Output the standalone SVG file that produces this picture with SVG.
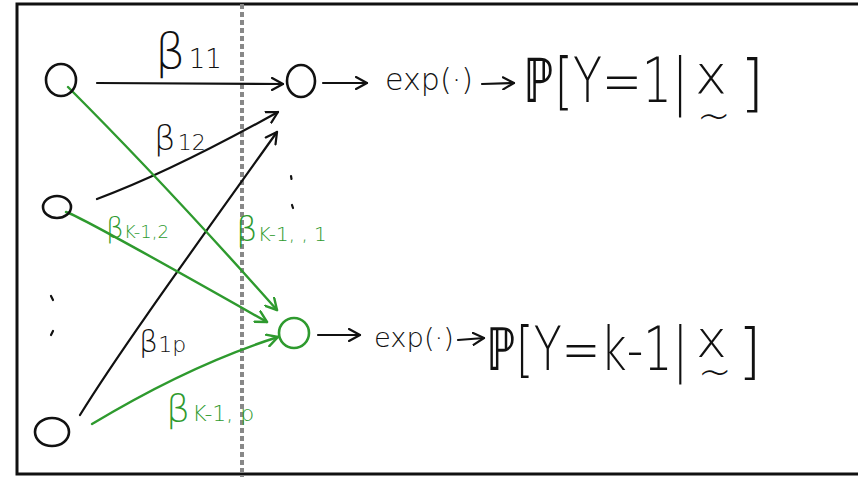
<svg xmlns="http://www.w3.org/2000/svg" width="858" height="477" viewBox="0 0 858 477">
<style>
.blk{fill:none;stroke:#111;stroke-width:2.2;stroke-linecap:round;stroke-linejoin:round}
.grn{fill:none;stroke:#2e9a2e;stroke-width:2.4;stroke-linecap:round;stroke-linejoin:round}
.node{fill:none;stroke-width:2.6}
.t{font-family:"DejaVu Sans","Liberation Sans",sans-serif;fill:#111;font-weight:200}
.tg{font-family:"DejaVu Sans","Liberation Sans",sans-serif;fill:#2e9a2e;font-weight:200}
</style>
<defs>
<marker id="ab" markerWidth="14" markerHeight="14" refX="12" refY="7" orient="auto" markerUnits="userSpaceOnUse">
<path d="M1,1 L12,7 L1,13" fill="none" stroke="#111" stroke-width="2.2" stroke-linecap="round" stroke-linejoin="round"/>
</marker>
<marker id="ag" markerWidth="14" markerHeight="14" refX="12" refY="7" orient="auto" markerUnits="userSpaceOnUse">
<path d="M1,1 L12,7 L1,13" fill="none" stroke="#2e9a2e" stroke-width="2.4" stroke-linecap="round" stroke-linejoin="round"/>
</marker>
</defs>
<rect x="0" y="0" width="858" height="477" fill="#fff"/>
<rect x="17" y="4" width="860" height="470" fill="none" stroke="#111" stroke-width="3"/>
<line x1="242" y1="4" x2="242" y2="477" stroke="#888" stroke-width="4" stroke-dasharray="5 3"/>

<g id="connectors">
<path class="blk" d="M97,83 L283,84" marker-end="url(#ab)"/>
<path class="blk" d="M97,199 Q170,172 278,112" marker-end="url(#ab)"/>
<path class="blk" d="M80,415 C120,350 200,240 277,132" marker-end="url(#ab)"/>
<path class="grn" d="M68,87 Q165,184 277,310" marker-end="url(#ag)"/>
<path class="grn" d="M66,212 Q80,216 267,322" marker-end="url(#ag)"/>
<path class="grn" d="M92,424 Q190,365 278,337" marker-end="url(#ag)"/>
<path class="blk" d="M323,83 L367,83" marker-end="url(#ab)"/>
<path class="blk" d="M482,84 L514,83" marker-end="url(#ab)"/>
<path class="blk" d="M318,335 L360,335" marker-end="url(#ab)"/>
<path class="blk" d="M458,340 L484,338" marker-end="url(#ab)"/>
</g>

<g id="x1"><ellipse class="node" cx="61" cy="80" rx="15" ry="16" stroke="#111"/></g>
<g id="x2"><ellipse class="node" cx="57" cy="207" rx="14" ry="11" stroke="#111"/></g>
<g id="x3"><ellipse class="node" cx="52" cy="432" rx="17" ry="14" stroke="#111"/></g>
<g id="y1"><ellipse class="node" cx="301" cy="81" rx="14" ry="16" stroke="#111"/></g>
<g id="yk"><ellipse class="node" cx="294" cy="333" rx="15" ry="15" stroke="#2e9a2e"/></g>

<g id="dots">
<path class="blk" d="M291,176 L291.5,179 M292,205 L293,208"/>
<path class="blk" d="M51,296 L53,300 M53,331 L51,335"/>
</g>

<g id="labels">
<text class="t" x="155" y="68"><tspan font-size="48">β</tspan><tspan font-size="26" dx="3">11</tspan></text>
<text class="t" x="154" y="150"><tspan font-size="34">β</tspan><tspan font-size="22" dx="2">12</tspan></text>
<text class="tg" x="106" y="238"><tspan font-size="28">β</tspan><tspan font-size="18">K-1,2</tspan></text>
<text class="tg" x="236" y="241"><tspan font-size="34">β</tspan><tspan font-size="20">K-1, , 1</tspan></text>
<text class="t" x="139" y="352"><tspan font-size="30">β</tspan><tspan font-size="22">1p</tspan></text>
<text class="tg" x="166" y="421"><tspan font-size="38">β</tspan><tspan font-size="22" dx="2">K-1, p</tspan></text>
</g>

<g id="out1">
<text class="t" x="385" y="90" font-size="30" textLength="88" lengthAdjust="spacingAndGlyphs">exp(·)</text>
<text class="t" x="523" y="102" font-size="62" textLength="165" lengthAdjust="spacingAndGlyphs">ℙ[Y=1|</text>
<text class="t" x="695" y="93" font-size="54">x<tspan x="697" y="130" font-size="40">~</tspan><tspan x="740" y="104" font-size="62">]</tspan></text>
</g>
<g id="outk">
<text class="t" x="374" y="347" font-size="27" textLength="80" lengthAdjust="spacingAndGlyphs">exp(·)</text>
<text class="t" x="486" y="370" font-size="60" textLength="202" lengthAdjust="spacingAndGlyphs">ℙ[Y=k-1|</text>
<text class="t" x="696" y="357" font-size="52">x<tspan x="698" y="386" font-size="40">~</tspan><tspan x="738" y="372" font-size="60">]</tspan></text>
</g>
</svg>
